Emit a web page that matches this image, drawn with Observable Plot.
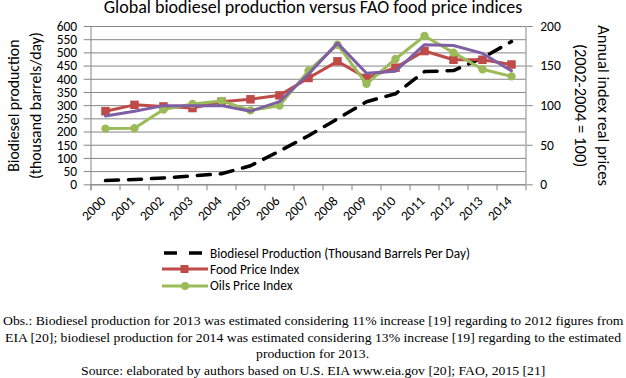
<!DOCTYPE html>
<html><head><meta charset="utf-8">
<script src="https://cdn.jsdelivr.net/npm/d3@7"></script>
<script src="https://cdn.jsdelivr.net/npm/@observablehq/plot@0.6"></script>
<style>
body{margin:0;width:626px;height:378px;overflow:hidden;background:#fff;font-family:Carlito,Lato,sans-serif;color:#000;position:relative;}
#title{position:absolute;left:0;top:-1px;width:626px;height:20px;text-align:center;font-size:18px;line-height:17px;white-space:nowrap;}
#chart{position:absolute;left:0;top:19px;}
#legend{position:absolute;left:162px;top:245px;font-size:13.3px;}
.lg{display:flex;align-items:center;height:16.3px;white-space:nowrap;}
.lg svg{margin-right:2px;flex:none;}
.cap{position:absolute;left:0;white-space:nowrap;font-family:"Liberation Serif","Times New Roman",serif;font-size:13px;line-height:16px;}
</style></head>
<body>
<div id="title">Global biodiesel production versus FAO food price indices</div>
<div id="chart"></div>
<div id="legend"></div>
<div id="caption"></div>
<script>
const years = ["2000","2001","2002","2003","2004","2005","2006","2007","2008","2009","2010","2011","2012","2013","2014"];
const biodiesel = [16,20,26,34,42,72,128,186,250,315,345,429,433,481,543];
const foodIndex = [93,101,99,97,105,108,113,135,156,135,148,169,158,158,152];
const oilsIndex = [71,71.5,95,102,106,94,100,144,177,127.5,159,188,167,146,137];
const otherIndex = [87,93,100,100,100,93,105,140,179,141,143.5,177,176,166,144];
const leftTicks = [0,50,100,150,200,250,300,350,400,450,500,550,600];
const rightTicks = [0,50,100,150,200];
const leftTitle = ["Biodiesel production", "(thousand barrels/day)"];
const rightTitle = ["Annual index real prices", "(2002-2004 = 100)"];
const seriesNames = ["Biodiesel Production (Thousand Barrels Per Day)","Food Price Index","Oils Price Index"];
const captionLines = [
  "Obs.: Biodiesel production for 2013 was estimated considering 11% increase [19] regarding to 2012 figures from",
  "EIA [20]; biodiesel production for 2014 was estimated considering 13% increase [19] regarding to the estimated",
  "production for 2013.",
  "Source: elaborated by authors based on U.S. EIA www.eia.gov [20]; FAO, 2015 [21]"
];

const cBio = "#000000", cFood = "#be4b48", cOils = "#9bbb59", cOther = "#7f5fa3", cGrid = "#868686";
const rows = years.map((y,i)=>({year:y, bio:biodiesel[i], food:foodIndex[i], oils:oilsIndex[i], other:otherIndex[i]}));
const toLeft = d3.scaleLinear([0,200],[0,600]);

const W = 626, H = 216, mT = 7, mB = 50.7, mL = 90.7, mR = 100.3;
const plotH = H - mT - mB;
const half = (W - mL - mR) / years.length / 2;

const chart = Plot.plot({
  width: W, height: H, marginTop: mT, marginBottom: mB, marginLeft: mL, marginRight: mR,
  style: {fontFamily: "Carlito, Lato, sans-serif", fontSize: "13px", color: "#000", background: "#fff", overflow: "visible"},
  x: {type: "point", domain: years, padding: 0.5},
  y: {domain: [0, 600]},
  marks: [
    Plot.gridY(leftTicks, {stroke: cGrid, strokeOpacity: 1, strokeWidth: 1}),
    Plot.ruleX(years, {x: d => d, dx: -half, insetTop: plotH, insetBottom: -6, stroke: cGrid}),
    Plot.ruleX([years[0]], {x: d => d, dx: -half, insetBottom: -6, stroke: cGrid}),
    Plot.ruleX([years[years.length-1]], {x: d => d, dx: half, insetBottom: -6, stroke: cGrid}),
    Plot.ruleY([0], {stroke: cGrid}),
    Plot.axisY(leftTicks, {anchor: "left", tickSize: 7, tickPadding: 7, stroke: cGrid, label: null, fontSize: 13.5}),
    Plot.axisY(rightTicks.map(toLeft), {anchor: "right", tickSize: 6, tickPadding: 8, stroke: cGrid, label: null, fontSize: 13.5, tickFormat: d => toLeft.invert(d)}),
    Plot.axisX({tickRotate: -45, tickSize: 0, tickPadding: 14, dx: -2, label: null, fontSize: 13.5}),
    Plot.text([leftTitle[0]], {frameAnchor: "left", rotate: -90, dx: -77, fontSize: 15.8, textAnchor: "middle", lineAnchor: "middle"}),
    Plot.text([leftTitle[1]], {frameAnchor: "left", rotate: -90, dx: -55.5, fontSize: 15.8, textAnchor: "middle", lineAnchor: "middle"}),
    Plot.text([rightTitle[0]], {frameAnchor: "right", rotate: 90, dx: 77, fontSize: 16.6, textAnchor: "middle", lineAnchor: "middle"}),
    Plot.text([rightTitle[1]], {frameAnchor: "right", rotate: 90, dx: 54, fontSize: 16.6, textAnchor: "middle", lineAnchor: "middle"}),
    Plot.line(rows, {x: "year", y: "bio", stroke: cBio, strokeWidth: 3.5, strokeDasharray: "13,10"}),
    Plot.line(rows, {x: "year", y: d => toLeft(d.food), stroke: cFood, strokeWidth: 3}),
    Plot.dot(rows, {x: "year", y: d => toLeft(d.food), symbol: "square", r: 4.8, fill: cFood, stroke: "none"}),
    Plot.line(rows, {x: "year", y: d => toLeft(d.oils), stroke: cOils, strokeWidth: 3}),
    Plot.dot(rows, {x: "year", y: d => toLeft(d.oils), symbol: "circle", r: 4.2, fill: cOils, stroke: "none"}),
    Plot.line(rows, {x: "year", y: d => toLeft(d.other), stroke: cOther, strokeWidth: 3})
  ]
});
document.getElementById("chart").appendChild(chart);

const legend = document.getElementById("legend");
const swatches = [
  `<line x1="2" y1="5" x2="44" y2="5" stroke="${cBio}" stroke-width="3.5" stroke-dasharray="13,12"/>`,
  `<line x1="0" y1="5" x2="46" y2="5" stroke="${cFood}" stroke-width="3"/><rect x="18.5" y="1" width="8" height="8" fill="${cFood}"/>`,
  `<line x1="0" y1="5" x2="46" y2="5" stroke="${cOils}" stroke-width="3"/><circle cx="23" cy="5" r="4" fill="${cOils}"/>`
];
seriesNames.forEach((name, i) => {
  const row = document.createElement("div");
  row.className = "lg";
  row.innerHTML = `<svg width="46" height="10">${swatches[i]}</svg><span>${name}</span>`;
  legend.appendChild(row);
});

// caption: lines 1-2 stretched to full width, lines 3-4 centered with line 1's stretch
const cap = document.getElementById("caption");
const tops = [313, 329.6, 346.2, 362.8];
const spans = [[2.5, 623], [5, 621]];
const els = captionLines.map((t, i) => {
  const d = document.createElement("div");
  d.className = "cap";
  d.style.top = tops[i] + "px";
  d.textContent = t;
  cap.appendChild(d);
  return d;
});
const scales = [];
els.forEach((d, i) => {
  if (i < 2) {
    const w = d.getBoundingClientRect().width;
    const s = (spans[i][1] - spans[i][0]) / w;
    scales.push(s);
    d.style.left = spans[i][0] + "px";
    d.style.transformOrigin = "0 0";
    d.style.transform = `scaleX(${s})`;
  }
});
els.slice(2).forEach(d => {
  const w = d.getBoundingClientRect().width;
  d.style.left = (313 - w / 2) + "px";
  d.style.transformOrigin = "50% 0";
  d.style.transform = `scaleX(${scales[0]})`;
});
</script>
</body></html>
